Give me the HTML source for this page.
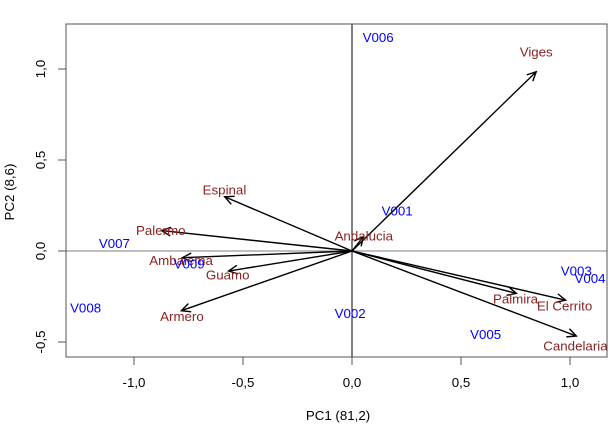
<!DOCTYPE html>
<html><head><meta charset="utf-8"><style>
body{margin:0;background:#fff}
svg{display:block;font-family:"Liberation Sans",Arial,sans-serif}
</style></head><body>
<svg id="chart" width="615" height="440" viewBox="0 0 615 440" xmlns="http://www.w3.org/2000/svg"></svg>
<script>
const sites=["Viges","Espinal","Palermo","Ambalema","Guamo","Armero","Andalucia","Palmira","El Cerrito","Candelaria"];
const siteX=[0.845,-0.584,-0.873,-0.778,-0.566,-0.783,0.052,0.754,0.98,1.029];
const siteY=[0.985,0.298,0.112,-0.037,-0.11,-0.328,0.079,-0.233,-0.27,-0.467];
const siteLabelX=[0.845,-0.585,-0.877,-0.784,-0.570,-0.780,0.054,0.750,0.975,1.025];
const siteLabelY=[1.095,0.335,0.115,-0.05,-0.132,-0.36,0.083,-0.264,-0.302,-0.522];
const vars=["V006","V001","V007","V009","V008","V002","V005","V003","V004"];
const varX=[0.12,0.207,-1.09,-0.747,-1.222,-0.0085,0.613,1.029,1.092];
const varY=[1.174,0.221,0.042,-0.071,-0.311,-0.342,-0.458,-0.110,-0.150];
const xTicks=[-1,-0.5,0,0.5,1];
const yTicks=[-0.5,0,0.5,1];
const tickLabel=v=>v.toFixed(1).replace('.',',');

const L=66,R=607,T=24,B=357;
const FS=13.3;
const sx=v=>352+v*218;
const sy=v=>251-v*182;
const svg=document.getElementById('chart');
const NS="http://www.w3.org/2000/svg";
function mk(tag,attrs,parent){const e=document.createElementNS(NS,tag);for(const k in attrs)e.setAttribute(k,attrs[k]);(parent||svg).appendChild(e);return e;}

let e=mk('line',{x1:L,x2:R,y1:sy(0),y2:sy(0),stroke:'#999','stroke-width':1.2});


e=mk('line',{x1:sx(0),x2:sx(0),y1:T,y2:B,stroke:'#000','stroke-width':1});



sites.forEach((s,i)=>{
  const g=mk('g',{});
  
  
  const x0=sx(0),y0=sy(0),x1=sx(siteX[i]),y1=sy(siteY[i]);
  mk('line',{x1:x0,y1:y0,x2:x1,y2:y1,stroke:'#000','stroke-width':1.4},g);
  const a=Math.atan2(y1-y0,x1-x0),h=10,w=0.45;
  const p1=[x1-h*Math.cos(a-w),y1-h*Math.sin(a-w)],p2=[x1-h*Math.cos(a+w),y1-h*Math.sin(a+w)];
  mk('polyline',{points:`${p1[0]},${p1[1]} ${x1},${y1} ${p2[0]},${p2[1]}`,fill:'none',stroke:'#000','stroke-width':1.4},g);
});
sites.forEach((s,i)=>{
  const t=mk('text',{x:sx(siteLabelX[i]),y:sy(siteLabelY[i])+4.7,'text-anchor':'middle','font-size':FS,fill:'#8b2323'});
  t.textContent=s;
  
  
});
vars.forEach((v,i)=>{
  const t=mk('text',{x:sx(varX[i]),y:sy(varY[i])+4.7,'text-anchor':'middle','font-size':FS,fill:'#0000ff'});
  t.textContent=v;
  
  
});
e=mk('rect',{x:L,y:T,width:R-L,height:B-T,fill:'none',stroke:'#555','stroke-width':1});


xTicks.forEach(v=>{
  mk('line',{x1:sx(v),x2:sx(v),y1:B,y2:B+8,stroke:'#555'});
  const t=mk('text',{x:sx(v),y:B+30,'text-anchor':'middle','font-size':FS,fill:'#000'});
  t.textContent=tickLabel(v);
  
  
});
yTicks.forEach(v=>{
  mk('line',{x1:L-8,x2:L,y1:sy(v),y2:sy(v),stroke:'#555'});
  const t=mk('text',{x:0,y:0,'text-anchor':'middle','font-size':FS,fill:'#000',transform:`translate(45,${sy(v)}) rotate(-90)`});
  t.textContent=tickLabel(v);
  
  
});
e=mk('text',{x:338,y:420,'text-anchor':'middle','font-size':FS,fill:'#000'});
e.textContent='PC1 (81,2)';


e=mk('text',{x:0,y:0,'text-anchor':'middle','font-size':FS,fill:'#000',transform:'translate(14,192) rotate(-90)'});
e.textContent='PC2 (8,6)';


</script>
</body></html>
